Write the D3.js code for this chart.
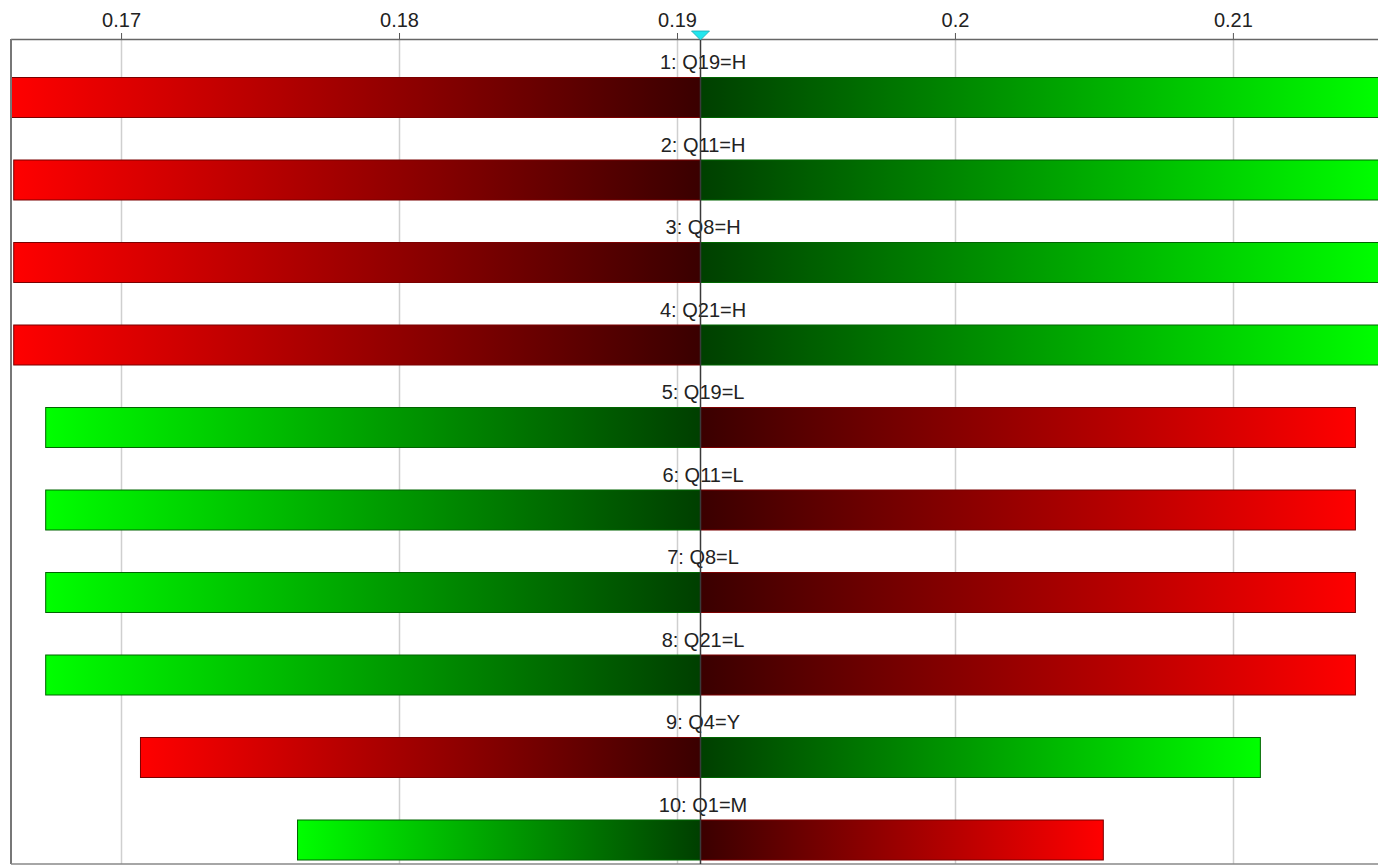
<!DOCTYPE html>
<html>
<head>
<meta charset="utf-8">
<script src="https://cdn.jsdelivr.net/npm/d3@7"></script>
<style>
  html, body { margin: 0; padding: 0; background: #fff; }
  svg { display: block; }
  text { font-family: "Liberation Sans", Arial, sans-serif; }
</style>
</head>
<body>
<svg id="chart" width="1378" height="865"></svg>
<script>
// ---- data ----
const labels = ["1: Q19=H", "2: Q11=H", "3: Q8=H", "4: Q21=H", "5: Q19=L",
                "6: Q11=L", "7: Q8=L", "8: Q21=L", "9: Q4=Y", "10: Q1=M"];
const leftValues  = [0.16604, 0.16612, 0.16612, 0.16612, 0.16727, 0.16727, 0.16727, 0.16727, 0.17068, 0.17633];
const rightValues = [0.21540, 0.21540, 0.21540, 0.21540, 0.21439, 0.21439, 0.21439, 0.21439, 0.21097, 0.20532];
// which side is the "bad" (red) side for each bar
const leftSide = ["red", "red", "red", "red", "green", "green", "green", "green", "red", "green"];
const baseValue = 0.19083;
const tickValues = [0.17, 0.18, 0.19, 0.20, 0.21];
const tickLabels = ["0.17", "0.18", "0.19", "0.2", "0.21"];
const xDomain = [0.16604, 0.21522];

// ---- layout ----
const W = 1378, H = 865;
const plot = { left: 11, right: 1378, top: 39, bottom: 864 };
const svg = d3.select("#chart");

const x = d3.scaleLinear().domain(xDomain).range([plot.left, plot.right]);
const y = d3.scaleBand().domain(d3.range(labels.length)).range([plot.top, plot.bottom]).padding(0);

const colors = {
  red:   { dark: "#3a0000", bright: "#ff0000", stroke: "#7a0000" },
  green: { dark: "#003f00", bright: "#00ff00", stroke: "#006400" }
};

// clip
svg.append("defs").append("clipPath").attr("id", "plotclip")
  .append("rect").attr("x", plot.left).attr("y", plot.top)
  .attr("width", plot.right - plot.left).attr("height", plot.bottom - plot.top);
const defs = svg.select("defs");

// grid lines
svg.append("g").selectAll("line").data(tickValues).join("line")
  .attr("x1", d => Math.round(x(d)) + 0.5).attr("x2", d => Math.round(x(d)) + 0.5)
  .attr("y1", plot.top).attr("y2", plot.bottom)
  .attr("stroke", "#cfcfcf").attr("stroke-width", 1.5);

// top axis
const axis = d3.axisTop(x).tickValues(tickValues)
  .tickFormat((d, i) => tickLabels[i]).tickSize(6).tickSizeOuter(0);
const ag = svg.append("g").attr("transform", `translate(0,${plot.top})`).call(axis);
ag.select(".domain").remove();
ag.selectAll(".tick line").attr("stroke", "#555");
ag.selectAll(".tick text").attr("font-size", 20).attr("fill", "#222")
  .attr("y", 0).attr("dy", null)
  .attr("transform", "translate(0,-19)")
  .attr("dominant-baseline", "central")
  .attr("font-family", "'Liberation Sans', Arial, sans-serif");

// bars
const barsG = svg.append("g").attr("clip-path", "url(#plotclip)");
const barH = 40, barOff = 38, labelOff = 23;
labels.forEach((lab, i) => {
  const yTop = y(i) + barOff;
  const xb = x(baseValue);
  const halves = [
    { side: leftSide[i], x0: x(leftValues[i]), x1: xb, endX: x(leftValues[i]) },
    { side: leftSide[i] === "red" ? "green" : "red", x0: xb, x1: x(rightValues[i]), endX: x(rightValues[i]) }
  ];
  halves.forEach((h, j) => {
    const c = colors[h.side];
    const gid = `g${i}_${j}`;
    const lg = defs.append("linearGradient").attr("id", gid)
      .attr("gradientUnits", "userSpaceOnUse")
      .attr("x1", xb).attr("x2", h.endX).attr("y1", 0).attr("y2", 0);
    lg.append("stop").attr("offset", 0).attr("stop-color", c.dark);
    lg.append("stop").attr("offset", 1).attr("stop-color", c.bright);
    barsG.append("rect")
      .attr("x", h.x0 + 0.5).attr("y", yTop + 0.5)
      .attr("width", h.x1 - h.x0).attr("height", barH)
      .attr("fill", `url(#${gid})`)
      .attr("stroke", c.stroke).attr("stroke-width", 1);
  });
  svg.append("text")
    .attr("x", x(baseValue) + 3).attr("y", y(i) + labelOff)
    .attr("text-anchor", "middle").attr("dominant-baseline", "central")
    .attr("font-size", 20).attr("fill", "#222").text(lab);
});

// frame
svg.append("line").attr("x1", plot.left).attr("x2", plot.right).attr("y1", plot.top + 0.5).attr("y2", plot.top + 0.5)
  .attr("stroke", "#666").attr("stroke-width", 1.5);
svg.append("line").attr("x1", plot.left).attr("x2", plot.left).attr("y1", plot.top).attr("y2", plot.bottom)
  .attr("stroke", "#777").attr("stroke-width", 2);
svg.append("line").attr("x1", plot.left).attr("x2", plot.right).attr("y1", plot.bottom).attr("y2", plot.bottom)
  .attr("stroke", "#888").attr("stroke-width", 1.5);

// base line + marker
const bx = Math.round(x(baseValue)) + 0.5;
svg.append("line").attr("x1", bx).attr("x2", bx).attr("y1", plot.top - 6).attr("y2", plot.bottom)
  .attr("stroke", "#3a3a3a").attr("stroke-width", 1.5);
svg.append("path")
  .attr("d", `M${bx - 9},${plot.top - 8} L${bx + 9},${plot.top - 8} L${bx},${plot.top + 1} Z`)
  .attr("fill", "#22e6ee").attr("stroke", "#1aa8b0").attr("stroke-width", 0.8);
</script>
</body>
</html>
